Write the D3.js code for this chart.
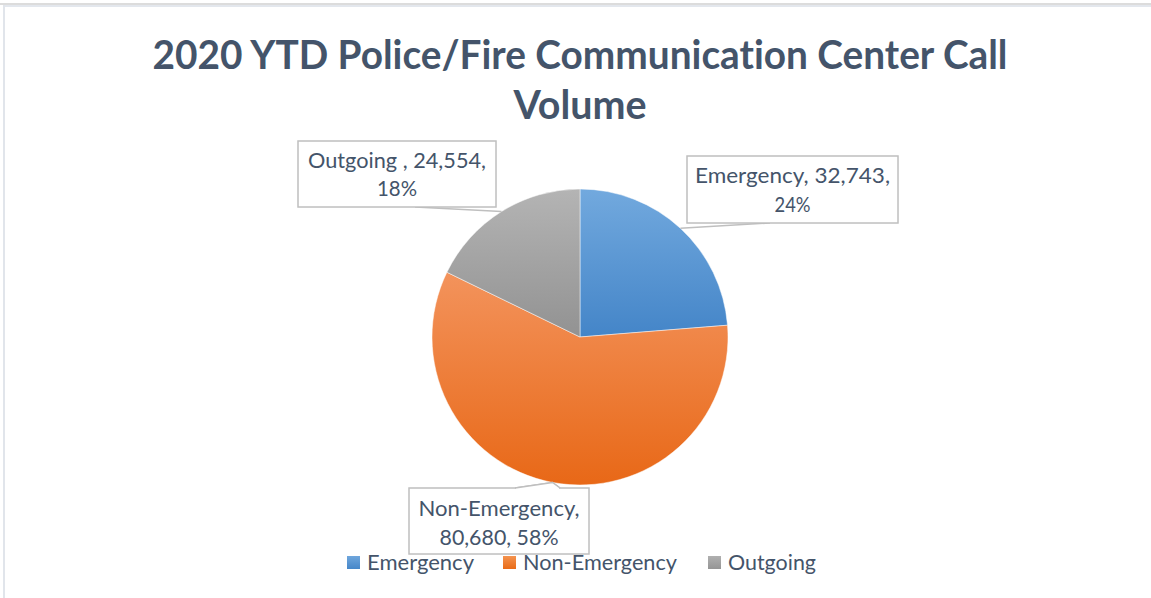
<!DOCTYPE html>
<html><head><meta charset="utf-8">
<script src="https://cdn.jsdelivr.net/npm/d3@7/dist/d3.min.js"></script>
<style>html,body{margin:0;padding:0;background:#fff;}svg{display:block;}text{font-variant-ligatures:none;font-feature-settings:"liga" 0;}</style>
</head><body>
<svg id="c" width="1151" height="598"></svg>
<script>
// ---- data ----
const categories = ["Emergency", "Non-Emergency", "Outgoing"];
const values = [32743, 80680, 24554];
const percentLabels = ["24%", "58%", "18%"];
const labelLines = [
  ["Emergency, 32,743,", "24%"],
  ["Non-Emergency,", "80,680, 58%"],
  ["Outgoing , 24,554,", "18%"]
];
const titleLines = ["2020 YTD Police/Fire Communication Center Call", "Volume"];

// ---- layout / style ----
const W = 1151, H = 598;
const font = "Lato, 'Open Sans', sans-serif";
const textColor = "#44546A";
const cx = 580, cy = 337, R = 148;
const gradStops = [
  ["#72A9DE", "#4485C8"],
  ["#F3935C", "#E86817"],
  ["#B4B4B4", "#929292"]
];
const legendColors = [["#6FA6DC","#4687C9"],["#F4934F","#E96B17"],["#B0B0B0","#959595"]];
const boxes = [
  {x:687, y:156, w:211, h:67, lines:[183,212], widths:[195,36], attach:[[770,223]]},
  {x:409, y:488, w:180, h:66, lines:[516,545], widths:[161,119], attach:[[515,488],null,[560,488]]},
  {x:298, y:141, w:198, h:66, lines:[168,196], widths:[178,40], attach:[[415,207]]}
];
const legendLayout = [{sx:347, tx:367, tw:107},{sx:503, tx:523, tw:154},{sx:708, tx:728, tw:88}];

const svg = d3.select("#c");
const defs = svg.append("defs");

// frame lines
svg.append("rect").attr("x",0).attr("y",3).attr("width",W).attr("height",2).attr("fill","#dcdcdc");
svg.append("rect").attr("x",3).attr("y",5).attr("width",W).attr("height",2).attr("fill","#e3e7ed");
svg.append("rect").attr("x",3).attr("y",5).attr("width",2).attr("height",H).attr("fill","#e1e5eb");

// title
svg.append("g").selectAll("text").data(titleLines).join("text")
  .attr("x", cx).attr("y", (d,i)=> i===0 ? 69 : 119)
  .attr("text-anchor","middle")
  .attr("font-family", font).attr("font-weight", 700).attr("font-size", 40)
  .attr("fill", textColor)
  .attr("textLength", (d,i)=> i===0 ? 855 : 133)
  .attr("lengthAdjust","spacingAndGlyphs")
  .text(d=>d);

// gradients
gradStops.forEach((s,i)=>{
  const g = defs.append("linearGradient").attr("id","g"+i).attr("x1",0).attr("y1",0).attr("x2",0).attr("y2",1);
  g.append("stop").attr("offset","0%").attr("stop-color",s[0]);
  g.append("stop").attr("offset","100%").attr("stop-color",s[1]);
});
legendColors.forEach((s,i)=>{
  const g = defs.append("linearGradient").attr("id","lg"+i).attr("x1",0).attr("y1",0).attr("x2",0).attr("y2",1);
  g.append("stop").attr("offset","0%").attr("stop-color",s[0]);
  g.append("stop").attr("offset","100%").attr("stop-color",s[1]);
});

// pie
const pie = d3.pie().sort(null).value(d=>d)(values);
const arc = d3.arc().innerRadius(0).outerRadius(R);
const pg = svg.append("g").attr("transform",`translate(${cx},${cy})`);
pg.selectAll("path").data(pie).join("path")
  .attr("d", arc)
  .attr("fill",(d,i)=>`url(#g${i})`)
  .attr("stroke","#ffffff").attr("stroke-width",0.8).attr("stroke-opacity",0.6);

// leader lines
const lg = svg.append("g");
pie.forEach((d,i)=>{
  const a = (d.startAngle + d.endAngle)/2;
  const p = [cx + R*Math.sin(a), cy - R*Math.cos(a)];
  const b = boxes[i];
  const pts = b.attach.map(q => q === null ? p : q);
  if (b.attach.length === 1) pts.push(p);
  lg.append("path").attr("d", d3.line()(pts))
    .attr("fill","none").attr("stroke","#BFBFBF").attr("stroke-width",1.5);
});

// label boxes
const bg = svg.append("g");
boxes.forEach((b,i)=>{
  bg.append("rect").attr("x",b.x).attr("y",b.y).attr("width",b.w).attr("height",b.h)
    .attr("fill","#fff").attr("stroke","#BFBFBF").attr("stroke-width",1.5);
  labelLines[i].forEach((t,j)=>{
    bg.append("text").attr("x", b.x + b.w/2).attr("y", b.lines[j])
      .attr("text-anchor","middle").attr("font-family",font).attr("font-size",22)
      .attr("fill",textColor)
      .attr("textLength", b.widths[j]).attr("lengthAdjust","spacingAndGlyphs")
      .text(t);
  });
});
// Non-Emergency leader notch over box top
{
  const d = pie[1]; const a = (d.startAngle + d.endAngle)/2;
  const p = [cx + R*Math.sin(a), cy - R*Math.cos(a)];
  svg.append("path").attr("d", d3.line()([[516,488],[559,488]]))
    .attr("stroke","#fff").attr("stroke-width",2);
  svg.append("path").attr("d", d3.line()([[515,488],p,[560,488]]))
    .attr("fill","#fff").attr("stroke","#BFBFBF").attr("stroke-width",1.5);
}

// legend
const leg = svg.append("g");
categories.forEach((c,i)=>{
  const L = legendLayout[i];
  leg.append("rect").attr("x",L.sx).attr("y",556).attr("width",13).attr("height",13)
    .attr("fill",`url(#lg${i})`);
  leg.append("text").attr("x",L.tx).attr("y",570).attr("font-family",font).attr("font-size",22)
    .attr("fill",textColor).attr("textLength",L.tw).attr("lengthAdjust","spacingAndGlyphs")
    .text(c);
});
</script>
</body></html>
